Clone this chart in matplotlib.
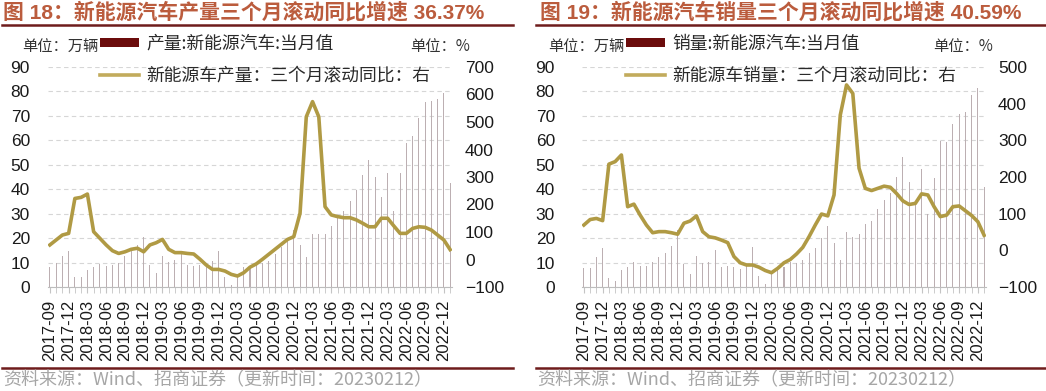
import numpy as np
import pandas as pd
import matplotlib
matplotlib.use("Agg")
from matplotlib import pyplot as plt
from matplotlib.lines import Line2D
from matplotlib.patches import Patch

plt.rcParams["font.family"] = ["Liberation Sans", "Noto Sans CJK SC", "DejaVu Sans"]

# monthly data 2017-09 .. 2023-01 (万辆, %)
months = pd.date_range("2017-09-01", periods=65, freq="MS")
labels = [m.strftime("%Y-%m") for m in months]

prod = [8.2, 9.8, 12.7, 14.9,
        4.1, 3.9, 6.8, 8.1, 9.6, 8.6, 9.1, 9.9, 12.7, 14.6, 17.3, 20.5,
        9.1, 5.9, 12.8, 10.2, 11.2, 13.4, 8.8, 8.7, 8.9, 9.5, 10.6, 14.9,
        4.2, 1.0, 5.4, 8.1, 8.3, 10.2, 10.0, 10.5, 13.6, 16.4, 19.8, 23.5,
        17.3, 12.4, 21.5, 21.6, 21.7, 24.8, 28.4, 30.9, 35.3, 39.7, 45.7, 51.8,
        45.2, 36.8, 46.5, 31.2, 46.6, 59.0, 61.7, 69.2, 75.5, 76.2, 76.8, 79.5,
        42.5]
prod_yoy = [53, 71, 89, 95, 222, 226, 238, 101, 77, 53,
            32, 22, 28, 37, 41, 28, 53, 61, 73, 37,
            25, 25, 22, 20, 1, -20, -36, -36, -42, -54,
            -60, -48, -28, -16, 1, 19, 37, 55, 73, 83,
            168, 519, 574, 519, 192, 162, 156, 152, 152, 144,
            132, 119, 119, 150, 150, 122, 95, 95, 113, 119,
            117, 107, 89, 71, 36]

sales = [7.8, 7.9, 12.2, 16.1,
         3.8, 2.5, 6.8, 8.2, 10.2, 8.4, 8.4, 10.1, 12.1, 13.8, 16.9, 23.5,
         9.6, 5.3, 12.6, 9.7, 10.4, 15.2, 8.0, 8.5, 8.0, 7.5, 9.5, 16.3,
         4.4, 1.3, 5.3, 7.2, 8.2, 10.4, 9.8, 10.9, 13.8, 16.0, 20.0, 24.8,
         17.9, 11.0, 22.6, 20.6, 21.7, 25.6, 27.1, 32.1, 35.7, 38.3, 45.0, 53.1,
         43.1, 33.4, 48.4, 29.9, 44.7, 59.6, 59.3, 66.6, 70.8, 71.4, 78.6, 81.4,
         40.8]
sales_yoy = [69, 84, 87, 81, 235, 242, 260, 119, 126, 96,
             69, 48, 51, 51, 48, 44, 74, 80, 94, 51,
             37, 34, 28, 21, -17, -34, -40, -40, -46, -55,
             -61, -49, -34, -25, -10, 8, 37, 69, 99, 94,
             151, 369, 451, 428, 224, 169, 163, 169, 175, 172,
             155, 135, 125, 128, 154, 151, 119, 92, 96, 119,
             121, 108, 95, 78, 41]

W, H = 1046, 391
fig = plt.figure(figsize=(W / 100, H / 100), dpi=100)

TITLE_C = "#bb5c3d"
RULE_C = "#6e1c1c"
BAR_C = "#bcafb2"
LINE_C = "#b09a44"
CJK = ["Noto Sans CJK SC", "DejaVu Sans"]


def fx(px):
    return px / W


def fy(py):
    return 1 - py / H


def panel(x0, x1, lpad, rpad, bars, line, yr, title, bar_name, line_name,
          title_x, rule_l, rule_r, unit_x, patch_x, pct_x):
    ax = fig.add_axes([fx(x0), fy(287), fx(x1 - x0), (287 - 67) / H])
    x = np.arange(len(bars))
    ax.bar(x, bars, width=0.16, color=BAR_C, linewidth=0, zorder=2)
    ax.set_xlim(-0.3, len(bars) - 0.7)
    ax.set_ylim(0, 90)
    ax.set_yticks(range(0, 91, 10))
    ax.yaxis.grid(True, color="#d6d6d6", linestyle=(0, (4, 3)), linewidth=0.8, zorder=0)
    ax.set_axisbelow(True)
    for s in ["left", "right", "top"]:
        ax.spines[s].set_visible(False)
    ax.spines["bottom"].set_color("#bdbdbd")
    ax.set_xticks(x[::3])
    ax.set_xticklabels(labels[::3], rotation=90, fontsize=12, color="#1a1a1a")
    ax.set_xticks(x, minor=True)
    ax.tick_params(axis="x", which="both", length=4, color="#c4c4c4", pad=5)
    ax.tick_params(axis="y", length=0, pad=lpad, labelsize=12.5, labelcolor="#1a1a1a")

    ax2 = ax.twinx()
    ax2.plot(x, line, color=LINE_C, linewidth=2.6, zorder=3)
    ax2.set_ylim(-100, yr)
    ax2.set_yticks(range(-100, yr + 1, 100))
    for s in ax2.spines.values():
        s.set_visible(False)
    ax2.tick_params(axis="y", length=0, pad=rpad, labelsize=12.5, labelcolor="#1a1a1a")

    # header and footer
    fig.text(fx(title_x), fy(12), title, fontsize=15, fontweight="bold",
             color=TITLE_C, va="center", ha="left", family=["Liberation Sans", "Noto Sans CJK SC"])
    fig.add_artist(Line2D([fx(rule_l), fx(rule_r)], [fy(24.5)] * 2, color=RULE_C, linewidth=1.8))
    fig.add_artist(Line2D([fx(rule_l), fx(rule_r)], [fy(368)] * 2, color=RULE_C, linewidth=1.8))
    fig.text(fx(rule_l + 1), fy(380), "资料来源：Wind、招商证券（更新时间：20230212）", fontsize=13,
             color="#a6a6a6", va="center", ha="left", family=CJK)
    fig.text(fx(unit_x), fy(47), "单位：万辆", fontsize=11, color="#333333", va="center",
             ha="left", family=CJK)
    fig.text(fx(pct_x), fy(47), "单位：%", fontsize=11, color="#333333", va="center",
             ha="left", family=CJK)

    handles = [Patch(facecolor="#6b0c0c", edgecolor="none"),
               Line2D([], [], color="#c2ab5c", linewidth=2.6)]
    leg = ax.legend(handles, [bar_name, line_name], loc="upper left",
                    bbox_to_anchor=(fx(patch_x), fy(35)), bbox_transform=fig.transFigure,
                    frameon=False, handlelength=2.2, handleheight=0.45,
                    handletextpad=0.4, labelspacing=0.75, borderpad=0, borderaxespad=0,
                    prop={"family": CJK, "size": 12.8})
    for t in leg.get_texts():
        t.set_color("#2a2a2a")
    return ax


panel(48, 452, 13, 9.4, prod, prod_yoy, 700,
      "图 18：新能源汽车产量三个月滚动同比增速 36.37%",
      "产量:新能源汽车:当月值", "新能源车产量：三个月滚动同比：右",
      3, 2, 513, 22, 100, 410)
panel(582, 986, 19.5, 8.6, sales, sales_yoy, 500,
      "图 19：新能源汽车销量三个月滚动同比增速 40.59%",
      "销量:新能源汽车:当月值", "新能源车销量：三个月滚动同比：右",
      540, 536, 1046, 548, 626, 933)

fig.savefig("out.png", dpi=100)
